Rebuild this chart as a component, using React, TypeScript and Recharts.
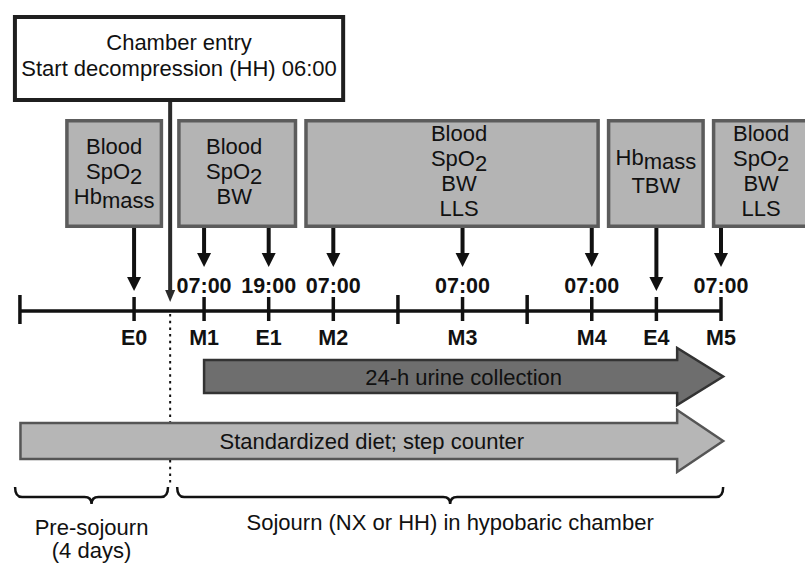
import React from 'react';
import {
  ComposedChart,
  Line,
  XAxis,
  YAxis,
  ReferenceArea,
  ReferenceLine,
} from 'recharts';

// Timeline marks, in hours counted from 07:00 on sojourn day 1 (M1)
const tickHours = [-34.2, -13, 0, 12, 24, 36, 48, 60, 72, 84, 96];
const tickNames = ['', 'E0', 'M1', 'E1', 'M2', '', 'M3', '', 'M4', 'E4', 'M5'];
const clockLabels = ['', '', '07:00', '19:00', '07:00', '', '07:00', '', '07:00', '', '07:00'];

// Measurement panels above the timeline
const panelFrom = [-25.8, -5.0, 18.6, 74.8, 94.3];
const panelTo = [-7.6, 17.3, 73.5, 93.0, 112.6];
const panelLines = [
  ['Blood', 'SpO2', 'Hbmass'],
  ['Blood', 'SpO2', 'BW'],
  ['Blood', 'SpO2', 'BW', 'LLS'],
  ['Hbmass', 'TBW'],
  ['Blood', 'SpO2', 'BW', 'LLS'],
];
const panelTargets = [[-13], [0, 12], [24, 48, 72], [84], [96]];

// Chamber entry call-out
const entryHour = -6.3;
const entryFrom = -35.5;
const entryTo = 26.2;
const entryLines = ['Chamber entry', 'Start decompression (HH) 06:00'];

// Continuous procedures (block arrows)
const bandNames = ['24-h urine collection', 'Standardized diet; step counter'];
const bandFrom = [0, -34.1];
const bandTo = [96.4, 96.4];

// Study phases (braces)
const phaseNames = [['Pre-sojourn', '(4 days)'], ['Sojourn (NX or HH) in hypobaric chamber']];
const phaseFrom = [-35.1, -5.0];
const phaseTo = [-6.7, 96.4];

// vertical layout rows (y axis runs top -> bottom)
const ROW = {
  entryTop: 15,
  entryBottom: 102,
  panelTop: 119,
  panelBottom: 228,
  clockTip: 267,
  plainTip: 291,
  entryTip: 302,
  timeline: 311,
  dotsEnd: 486,
  bandTop: [348, 410],
  bandBottom: [405, 472],
  braceTop: 487,
  braceBottom: 504,
};

const FONT = '"Liberation Sans", Arial, Helvetica, sans-serif';
const INK = '#111';

const timelineData = tickHours.map((t, i) => ({
  t,
  y: ROW.timeline,
  name: tickNames[i],
  clock: clockLabels[i],
}));

const textLine = (s: string, x: number, y: number, key: string, size = 22) => {
  let body: React.ReactNode = s;
  if (s === 'SpO2') {
    body = [<tspan key="a">SpO</tspan>, <tspan key="b" dy={5}>2</tspan>];
  } else if (s === 'Hbmass') {
    body = [<tspan key="a">Hb</tspan>, <tspan key="b" dy={4}>mass</tspan>];
  }
  return (
    <text key={key} x={x} y={y} textAnchor="middle" fontFamily={FONT} fontSize={size} fill={INK}>
      {body}
    </text>
  );
};

const panelShape = (lines: string[], shift: number) => (p: any) => {
  const sw = 3.5;
  const mid = p.y + p.height / 2 + 5;
  const gap = lines.length === 2 ? 28 : 25;
  return (
    <g>
      <rect
        x={p.x + sw / 2}
        y={p.y + sw / 2}
        width={p.width - sw}
        height={p.height - sw}
        fill="#b4b4b4"
        stroke="#5c5c5c"
        strokeWidth={sw}
      />
      {lines.map((s, i) =>
        textLine(s, p.x + p.width / 2 + shift, mid + (i - (lines.length - 1) / 2) * gap, `l${i}`)
      )}
    </g>
  );
};

const entryShape = (p: any) => {
  const sw = 4;
  return (
    <g>
      <rect
        x={p.x + sw / 2}
        y={p.y + sw / 2}
        width={p.width - sw}
        height={p.height - sw}
        fill="#fff"
        stroke="#1f1f1f"
        strokeWidth={sw}
      />
      {entryLines.map((s, i) => textLine(s, p.x + p.width / 2, p.y + 35 + i * 26, `e${i}`))}
    </g>
  );
};

const arrowShape = (color: string, width: number, headW: number, headL: number) => (p: any) => {
  const { x1, y1, x2, y2 } = p;
  return (
    <g>
      <line x1={x1} y1={y1} x2={x2} y2={y2 - headL + 1} stroke={color} strokeWidth={width} />
      <polygon
        points={`${x2 - headW / 2},${y2 - headL} ${x2 + headW / 2},${y2 - headL} ${x2},${y2}`}
        fill={color}
      />
    </g>
  );
};

const bandShape = (label: string, fill: string, stroke: string, inset: number) => (p: any) => {
  const { x, y, width, height } = p;
  const headL = 46;
  const xb = x + width - headL;
  const pts = [
    [x, y + inset],
    [xb, y + inset],
    [xb, y],
    [x + width, y + height / 2],
    [xb, y + height],
    [xb, y + height - inset],
    [x, y + height - inset],
  ]
    .map((q) => q.join(','))
    .join(' ');
  return (
    <g>
      <polygon points={pts} fill={fill} stroke={stroke} strokeWidth={2.5} strokeLinejoin="miter" />
      {textLine(label, x + width / 2, y + height / 2 + 8, 'b')}
    </g>
  );
};

const braceShape = (lines: string[]) => (p: any) => {
  const { x, y, width } = p;
  const x2 = x + width;
  const mid = x + width / 2;
  const base = y + 10;
  const tip = y + 17;
  const r = 7;
  const d = [
    `M ${x} ${y}`,
    `Q ${x} ${base} ${x + r} ${base}`,
    `L ${mid - r} ${base}`,
    `Q ${mid} ${base} ${mid} ${tip}`,
    `Q ${mid} ${base} ${mid + r} ${base}`,
    `L ${x2 - r} ${base}`,
    `Q ${x2} ${base} ${x2} ${y}`,
  ].join(' ');
  const first = lines.length > 1 ? y + 48 : y + 43;
  return (
    <g>
      <path d={d} fill="none" stroke={INK} strokeWidth={2.5} />
      {lines.map((s, i) => textLine(s, mid, first + i * 23, `p${i}`))}
    </g>
  );
};

const renderTick = (p: any) => {
  const { cx, cy, payload, index } = p;
  const plain = payload.name === '';
  return (
    <g key={`tick-${index}`}>
      <line
        x1={cx}
        x2={cx}
        y1={cy - (plain ? 16 : 14)}
        y2={cy + (plain ? 13 : 10)}
        stroke={INK}
        strokeWidth={3.5}
      />
      {payload.clock && (
        <text x={cx} y={cy - 18} textAnchor="middle" fontFamily={FONT} fontSize={21.5} fontWeight="bold" fill={INK}>
          {payload.clock}
        </text>
      )}
      {payload.name && (
        <text x={cx} y={cy + 34} textAnchor="middle" fontFamily={FONT} fontSize={21.5} fontWeight="bold" fill={INK}>
          {payload.name}
        </text>
      )}
    </g>
  );
};

const StudyTimeline: React.FC = () => {
  const tipFor = (t: number) => {
    const i = tickHours.indexOf(t);
    return clockLabels[i] ? ROW.clockTip : ROW.plainTip;
  };

  return (
    <div style={{ position: 'absolute', left: 0, top: 0 }}>
      <ComposedChart width={805} height={563} data={timelineData} margin={{ top: 0, right: 0, bottom: 0, left: 0 }}>
        <XAxis dataKey="t" type="number" domain={[-37.9, 111.6]} allowDataOverflow hide />
        <YAxis type="number" domain={[0, 563]} reversed allowDataOverflow hide />

        <ReferenceArea
          x1={entryFrom}
          x2={entryTo}
          y1={ROW.entryTop}
          y2={ROW.entryBottom}
          ifOverflow="visible"
          shape={entryShape}
        />

        {panelLines.map((lines, i) => (
          <ReferenceArea
            key={`panel-${i}`}
            x1={panelFrom[i]}
            x2={panelTo[i]}
            y1={ROW.panelTop}
            y2={ROW.panelBottom}
            ifOverflow="visible"
            shape={panelShape(lines, [0, -3, 7, 0, 0][i])}
          />
        ))}

        {bandNames.map((name, i) => (
          <ReferenceArea
            key={`band-${i}`}
            x1={bandFrom[i]}
            x2={bandTo[i]}
            y1={ROW.bandTop[i]}
            y2={ROW.bandBottom[i]}
            ifOverflow="visible"
            shape={bandShape(name, i === 0 ? '#6e6e6e' : '#b6b6b6', i === 0 ? '#333' : '#555', i === 0 ? 12 : 13)}
          />
        ))}

        {phaseNames.map((lines, i) => (
          <ReferenceArea
            key={`phase-${i}`}
            x1={phaseFrom[i]}
            x2={phaseTo[i]}
            y1={ROW.braceTop}
            y2={ROW.braceBottom}
            ifOverflow="visible"
            shape={braceShape(lines)}
          />
        ))}

        {panelTargets.flatMap((targets, i) =>
          targets.map((t) => (
            <ReferenceLine
              key={`arrow-${i}-${t}`}
              segment={[
                { x: t, y: ROW.panelBottom },
                { x: t, y: tipFor(t) },
              ]}
              ifOverflow="visible"
              shape={arrowShape(INK, 4, 14, 14)}
            />
          ))
        )}

        <ReferenceLine
          segment={[
            { x: entryHour, y: ROW.entryBottom },
            { x: entryHour, y: ROW.entryTip },
          ]}
          ifOverflow="visible"
          shape={arrowShape('#2b2b2b', 4, 10, 12)}
        />
        <ReferenceLine
          segment={[
            { x: entryHour, y: ROW.timeline + 3 },
            { x: entryHour, y: ROW.bandTop[1] + 12 },
          ]}
          ifOverflow="visible"
          stroke={INK}
          strokeWidth={2}
          strokeDasharray="2.5 4.2"
        />
        <ReferenceLine
          segment={[
            { x: entryHour, y: ROW.bandBottom[1] - 12 },
            { x: entryHour, y: ROW.dotsEnd },
          ]}
          ifOverflow="visible"
          stroke={INK}
          strokeWidth={2}
          strokeDasharray="2.5 4.2"
        />

        <Line
          dataKey="y"
          stroke={INK}
          strokeWidth={3.5}
          dot={renderTick}
          activeDot={false}
          isAnimationActive={false}
        />
      </ComposedChart>
    </div>
  );
};

export default function App() {
  return <StudyTimeline />;
}
